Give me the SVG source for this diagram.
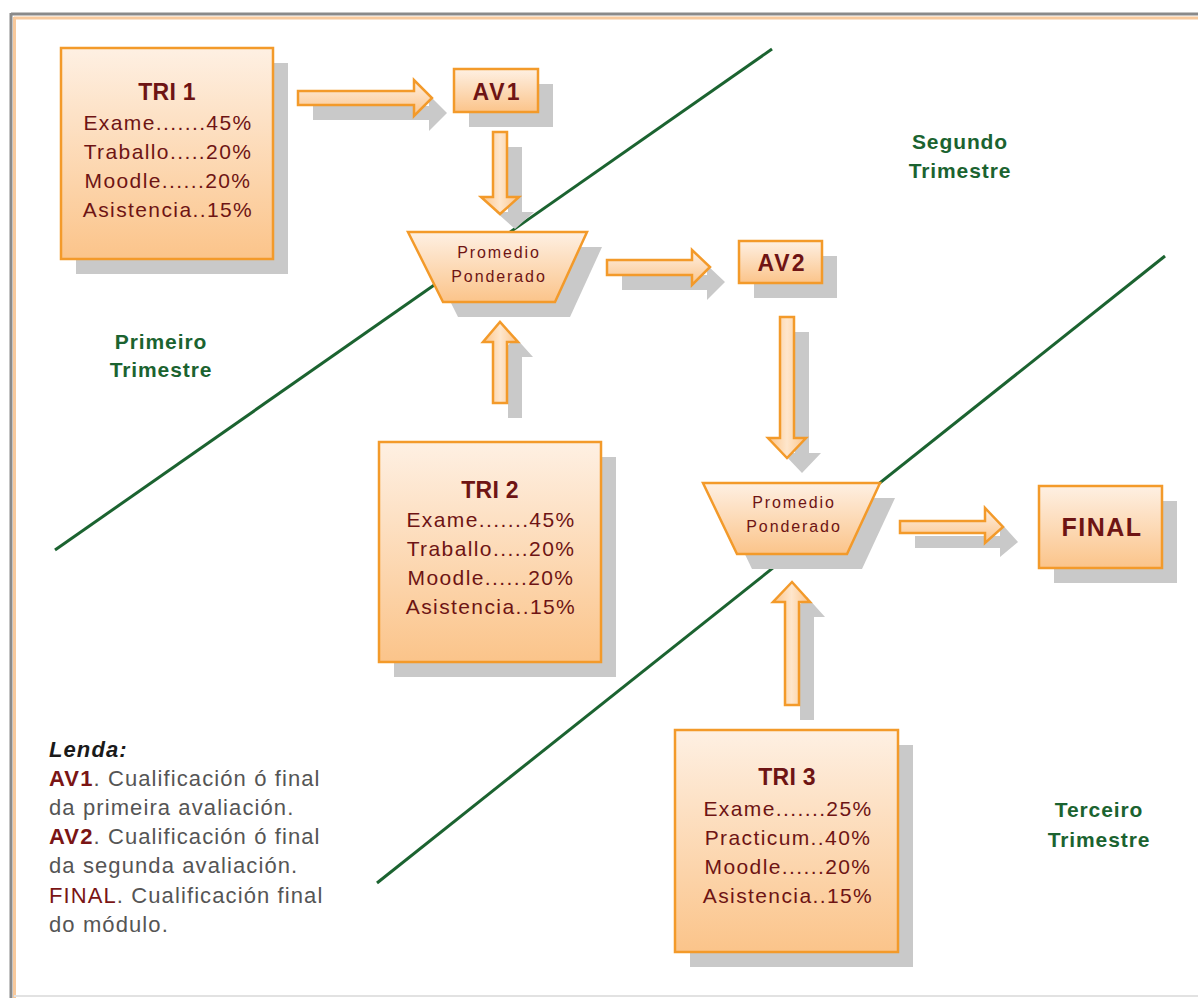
<svg xmlns="http://www.w3.org/2000/svg" width="1198" height="998" viewBox="0 0 1198 998">
<defs>
<linearGradient id="gv" x1="0" y1="0" x2="0" y2="1">
<stop offset="0" stop-color="#fef0e3"/>
<stop offset="1" stop-color="#fbc48a"/>
</linearGradient>
<linearGradient id="gh" x1="0" y1="0" x2="1" y2="0">
<stop offset="0" stop-color="#fbc48a"/>
<stop offset="0.5" stop-color="#fee6cc"/>
<stop offset="1" stop-color="#fbc48a"/>
</linearGradient>
<style>
.box{fill:url(#gv);stroke:#f39a2a;stroke-width:2.5}
.arr{fill:url(#gv);stroke:#f39a2a;stroke-width:2.5;stroke-linejoin:miter}
.arrv{fill:url(#gh);stroke:#f39a2a;stroke-width:2.5}
.sh{fill:#c9c9c9}
.t{font-family:"Liberation Sans",Arial,sans-serif;fill:#6e1414;text-anchor:middle}
.title{font-size:23px;font-weight:bold;letter-spacing:0.3px}
.body{font-size:21px;letter-spacing:1.4px}
.lbl{font-size:23px;font-weight:bold;letter-spacing:2px}
.prom{font-size:16px;letter-spacing:1.9px}
.tri{font-family:"Liberation Sans",Arial,sans-serif;fill:#1b6330;font-size:21px;font-weight:bold;text-anchor:middle;letter-spacing:0.9px}
.leg{font-family:"Liberation Sans",Arial,sans-serif;font-size:22px;fill:#555;letter-spacing:1.1px}
.gl{stroke:#1b6330;stroke-width:3;fill:none}
</style>
</defs>
<rect width="1198" height="998" fill="#ffffff"/>
<g id="frame">
<line x1="11" y1="14" x2="1198" y2="14" stroke="#8a8a8a" stroke-width="3"/>
<line x1="14" y1="18" x2="1198" y2="18" stroke="#f8c99c" stroke-width="3"/>
<line x1="11" y1="13" x2="11" y2="998" stroke="#8a8a8a" stroke-width="3"/>
<line x1="14.5" y1="17" x2="14.5" y2="998" stroke="#f8c99c" stroke-width="3"/>
<line x1="14" y1="996" x2="1198" y2="996" stroke="#e2e2e2" stroke-width="2"/>
</g>
<g id="divisions">
<line class="gl" x1="55" y1="550" x2="772" y2="49"/>
<line class="gl" x1="377" y1="883" x2="1165" y2="256"/>
</g>
<g id="connectors">
<g id="a-tri1-av1">
<polygon class="sh" points="313,106 429,106 429,95 447,113 429,131 429,120 313,120"/>
<polygon class="arr" points="298,91 414,91 414,80 432,98 414,116 414,105 298,105"/>
</g>
<g id="a-av1-prom1">
<polygon class="sh" points="508,147 522,147 522,212 534,212 515,229 496,212 508,212"/>
<polygon class="arrv" points="493,132 507,132 507,197 519,197 500,214 481,197 493,197"/>
</g>
<g id="a-prom1-av2">
<polygon class="sh" points="622,275 707,275 707,265 725,282 707,300 707,290 622,290"/>
<polygon class="arr" points="607,260 692,260 692,250 710,267 692,285 692,275 607,275"/>
</g>
<g id="a-av2-prom2">
<polygon class="sh" points="795,332 809,332 809,453 821,453 802,473 783,453 795,453"/>
<polygon class="arrv" points="780,317 794,317 794,438 806,438 787,458 768,438 780,438"/>
</g>
<g id="a-prom2-final">
<polygon class="sh" points="915,536 1000,536 1000,522 1018,542 1000,557 1000,548 915,548"/>
<polygon class="arr" points="900,521 985,521 985,508 1003,527 985,543 985,533 900,533"/>
</g>
<g id="a-tri2-prom1">
<polygon class="sh" points="508,418 508,357 498,357 515,337 533,357 522,357 522,418"/>
<polygon class="arrv" points="493,403 493,342 483,342 500,322 518,342 507,342 507,403"/>
</g>
<g id="a-tri3-prom2">
<polygon class="sh" points="800,720 800,617 788,617 807,597 825,617 814,617 814,720"/>
<polygon class="arrv" points="785,705 785,602 773,602 792,582 810,602 799,602 799,705"/>
</g>
</g>
<g id="tri1">
<rect class="sh" x="76" y="63" width="212" height="211"/>
<rect class="box" x="61" y="48" width="212" height="211"/>
<text class="t title" x="167" y="100">TRI 1</text>
<text class="t body" x="168" y="130">Exame.......45%</text>
<text class="t body" x="168" y="159">Traballo.....20%</text>
<text class="t body" x="168" y="188">Moodle......20%</text>
<text class="t body" x="168" y="217">Asistencia..15%</text>
</g>
<g id="av1">
<rect class="sh" x="469" y="84" width="84" height="43"/>
<rect class="box" x="454" y="69" width="84" height="43"/>
<text class="t lbl" x="497" y="100">AV1</text>
</g>
<g id="prom1">
<polygon class="sh" points="423,247 602,247 570,317 458,317"/>
<polygon class="box" points="408,232 587,232 555,302 443,302"/>
<text class="t prom" x="499" y="258">Promedio</text>
<text class="t prom" x="499" y="282">Ponderado</text>
</g>
<g id="av2">
<rect class="sh" x="754" y="256" width="83" height="42"/>
<rect class="box" x="739" y="241" width="83" height="42"/>
<text class="t lbl" x="782" y="271">AV2</text>
</g>
<g id="tri2">
<rect class="sh" x="394" y="457" width="222" height="220"/>
<rect class="box" x="379" y="442" width="222" height="220"/>
<text class="t title" x="490" y="498">TRI 2</text>
<text class="t body" x="491" y="527">Exame.......45%</text>
<text class="t body" x="491" y="556">Traballo.....20%</text>
<text class="t body" x="491" y="585">Moodle......20%</text>
<text class="t body" x="491" y="614">Asistencia..15%</text>
</g>
<g id="prom2">
<polygon class="sh" points="718,498 895,498 862,569 752,569"/>
<polygon class="box" points="703,483 880,483 847,554 737,554"/>
<text class="t prom" x="794" y="508">Promedio</text>
<text class="t prom" x="794" y="532">Ponderado</text>
</g>
<g id="final">
<rect class="sh" x="1054" y="501" width="123" height="82"/>
<rect class="box" x="1039" y="486" width="123" height="82"/>
<text class="t lbl" x="1102" y="536" style="font-size:25px;letter-spacing:1.5px">FINAL</text>
</g>
<g id="tri3">
<rect class="sh" x="690" y="745" width="223" height="222"/>
<rect class="box" x="675" y="730" width="223" height="222"/>
<text class="t title" x="787" y="785">TRI 3</text>
<text class="t body" x="788" y="816">Exame.......25%</text>
<text class="t body" x="788" y="845">Practicum..40%</text>
<text class="t body" x="788" y="874">Moodle......20%</text>
<text class="t body" x="788" y="903">Asistencia..15%</text>
</g>
<g id="labels">
<text class="tri" x="161" y="349">Primeiro</text>
<text class="tri" x="161" y="377">Trimestre</text>
<text class="tri" x="960" y="149">Segundo</text>
<text class="tri" x="960" y="178">Trimestre</text>
<text class="tri" x="1099" y="817">Terceiro</text>
<text class="tri" x="1099" y="847">Trimestre</text>
</g>
<g id="legend">
<text class="leg" x="49" y="757" style="font-weight:bold;font-style:italic;fill:#1a1a1a">Lenda:</text>
<text class="leg" x="49" y="786"><tspan style="font-weight:bold;fill:#7a1515">AV1</tspan>. Cualificación ó final</text>
<text class="leg" x="49" y="815">da primeira avaliación.</text>
<text class="leg" x="49" y="844"><tspan style="font-weight:bold;fill:#7a1515">AV2</tspan>. Cualificación ó final</text>
<text class="leg" x="49" y="873">da segunda avaliación.</text>
<text class="leg" x="49" y="903"><tspan style="fill:#7a1515">FINAL</tspan>. Cualificación final</text>
<text class="leg" x="49" y="932">do módulo.</text>
</g>
</svg>
